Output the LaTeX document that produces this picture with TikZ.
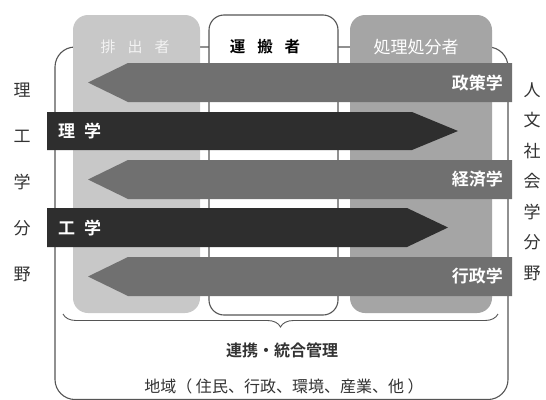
\documentclass[tikz,border=0pt]{standalone}
\usepackage{fontspec}
\setmainfont{Noto Sans CJK JP}[BoldFont={Noto Sans CJK JP Bold}]
\usetikzlibrary{decorations.pathreplacing}
\definecolor{colL}{HTML}{C8C8C8}
\definecolor{colR}{HTML}{A5A5A5}
\definecolor{arrG}{HTML}{707070}
\definecolor{arrD}{HTML}{2E2E2E}
\definecolor{lineC}{HTML}{555555}
\definecolor{txtC}{HTML}{333333}
\tikzset{
  frameline/.style={draw=lineC, line width=1.1pt},
  graybar/.style={fill=arrG, draw=none},
  darkbar/.style={fill=arrD, draw=none},
  barlabel/.style={text=white, font=\fontsize{17}{17}\selectfont\bfseries, inner sep=0pt},
  sidelabel/.style={text=txtC, font=\fontsize{17}{17}\selectfont, inner sep=0pt},
  headlabel/.style={inner sep=0pt},
  bottomlabel/.style={text=txtC, inner sep=0pt},
}
\begin{document}
\begin{tikzpicture}[x=1pt,y=-1pt]
\useasboundingbox (0,0) rectangle (546,399);
\fill[white] (0,0) rectangle (546,399);
% outer frame
\draw[frameline, rounded corners=20pt] (55,47) rectangle (508,399.5);
% columns
\fill[colL, rounded corners=15pt] (73,15) rectangle (200,313);
\filldraw[fill=white, frameline, rounded corners=15pt] (209,15) rectangle (338,315);
\fill[colR, rounded corners=15pt] (350,15) rectangle (492,313);
% headers
\node[headlabel, text=white!95!black, font=\fontsize{15}{15}\selectfont] (h1) at (135,47) {排\hspace{12pt}出\hspace{12pt}者};
\node[headlabel, text=black, font=\fontsize{15.5}{15.5}\selectfont\bfseries] (h2) at (265,47) {運\hspace{12pt}搬\hspace{12pt}者};
\node[headlabel, text=white, font=\fontsize{17}{17}\selectfont] (h3) at (416,47) {処理処分者};
% bars
\path[graybar] (512,63) -- (128,63) -- (88,82.5) -- (128,102) -- (512,102) -- cycle;
\path[darkbar] (47,112) -- (412,112) -- (458,131) -- (412,150) -- (47,150) -- cycle;
\path[graybar] (512,160) -- (128,160) -- (88,179.5) -- (128,199) -- (512,199) -- cycle;
\path[darkbar] (47,208) -- (407,208) -- (448,227.5) -- (407,247) -- (47,247) -- cycle;
\path[graybar] (512,257) -- (128,257) -- (88,276.5) -- (128,296) -- (512,296) -- cycle;
% bar labels
\node[barlabel, anchor=east] (b1) at (503,82.5) {政策学};
\node[barlabel, anchor=west] (b2) at (58,131) {理\hspace{9pt}学};
\node[barlabel, anchor=east] (b3) at (503,179.5) {経済学};
\node[barlabel, anchor=west] (b4) at (58,227.5) {工\hspace{9pt}学};
\node[barlabel, anchor=east] (b5) at (503,276.5) {行政学};
% side labels left
\node[sidelabel] (l1) at (22,90) {理};
\node[sidelabel] (l2) at (22,136) {工};
\node[sidelabel] (l3) at (22,182) {学};
\node[sidelabel] (l4) at (22,228) {分};
\node[sidelabel] (l5) at (22,274) {野};
% side labels right
\node[sidelabel] (r1) at (532,90) {人};
\node[sidelabel] (r2) at (532,120.5) {文};
\node[sidelabel] (r3) at (532,151) {社};
\node[sidelabel] (r4) at (532,181.5) {会};
\node[sidelabel] (r5) at (532,212) {学};
\node[sidelabel] (r6) at (532,242.5) {分};
\node[sidelabel] (r7) at (532,273) {野};
% brace
\coordinate (bl) at (63,314);
\coordinate (br) at (498,314);
\draw[frameline, line width=0.9pt, decorate, decoration={brace, mirror, amplitude=13pt}] (bl) -- (br);
% bottom texts
\node[bottomlabel, font=\fontsize{16}{16}\selectfont\bfseries] (t1) at (282,350) {連携・統合管理};
\node[bottomlabel, font=\fontsize{16}{16}\selectfont] (t2) at (284,386) {地域（ 住民、行政、環境、産業、他 ）};
\end{tikzpicture}
\end{document}
